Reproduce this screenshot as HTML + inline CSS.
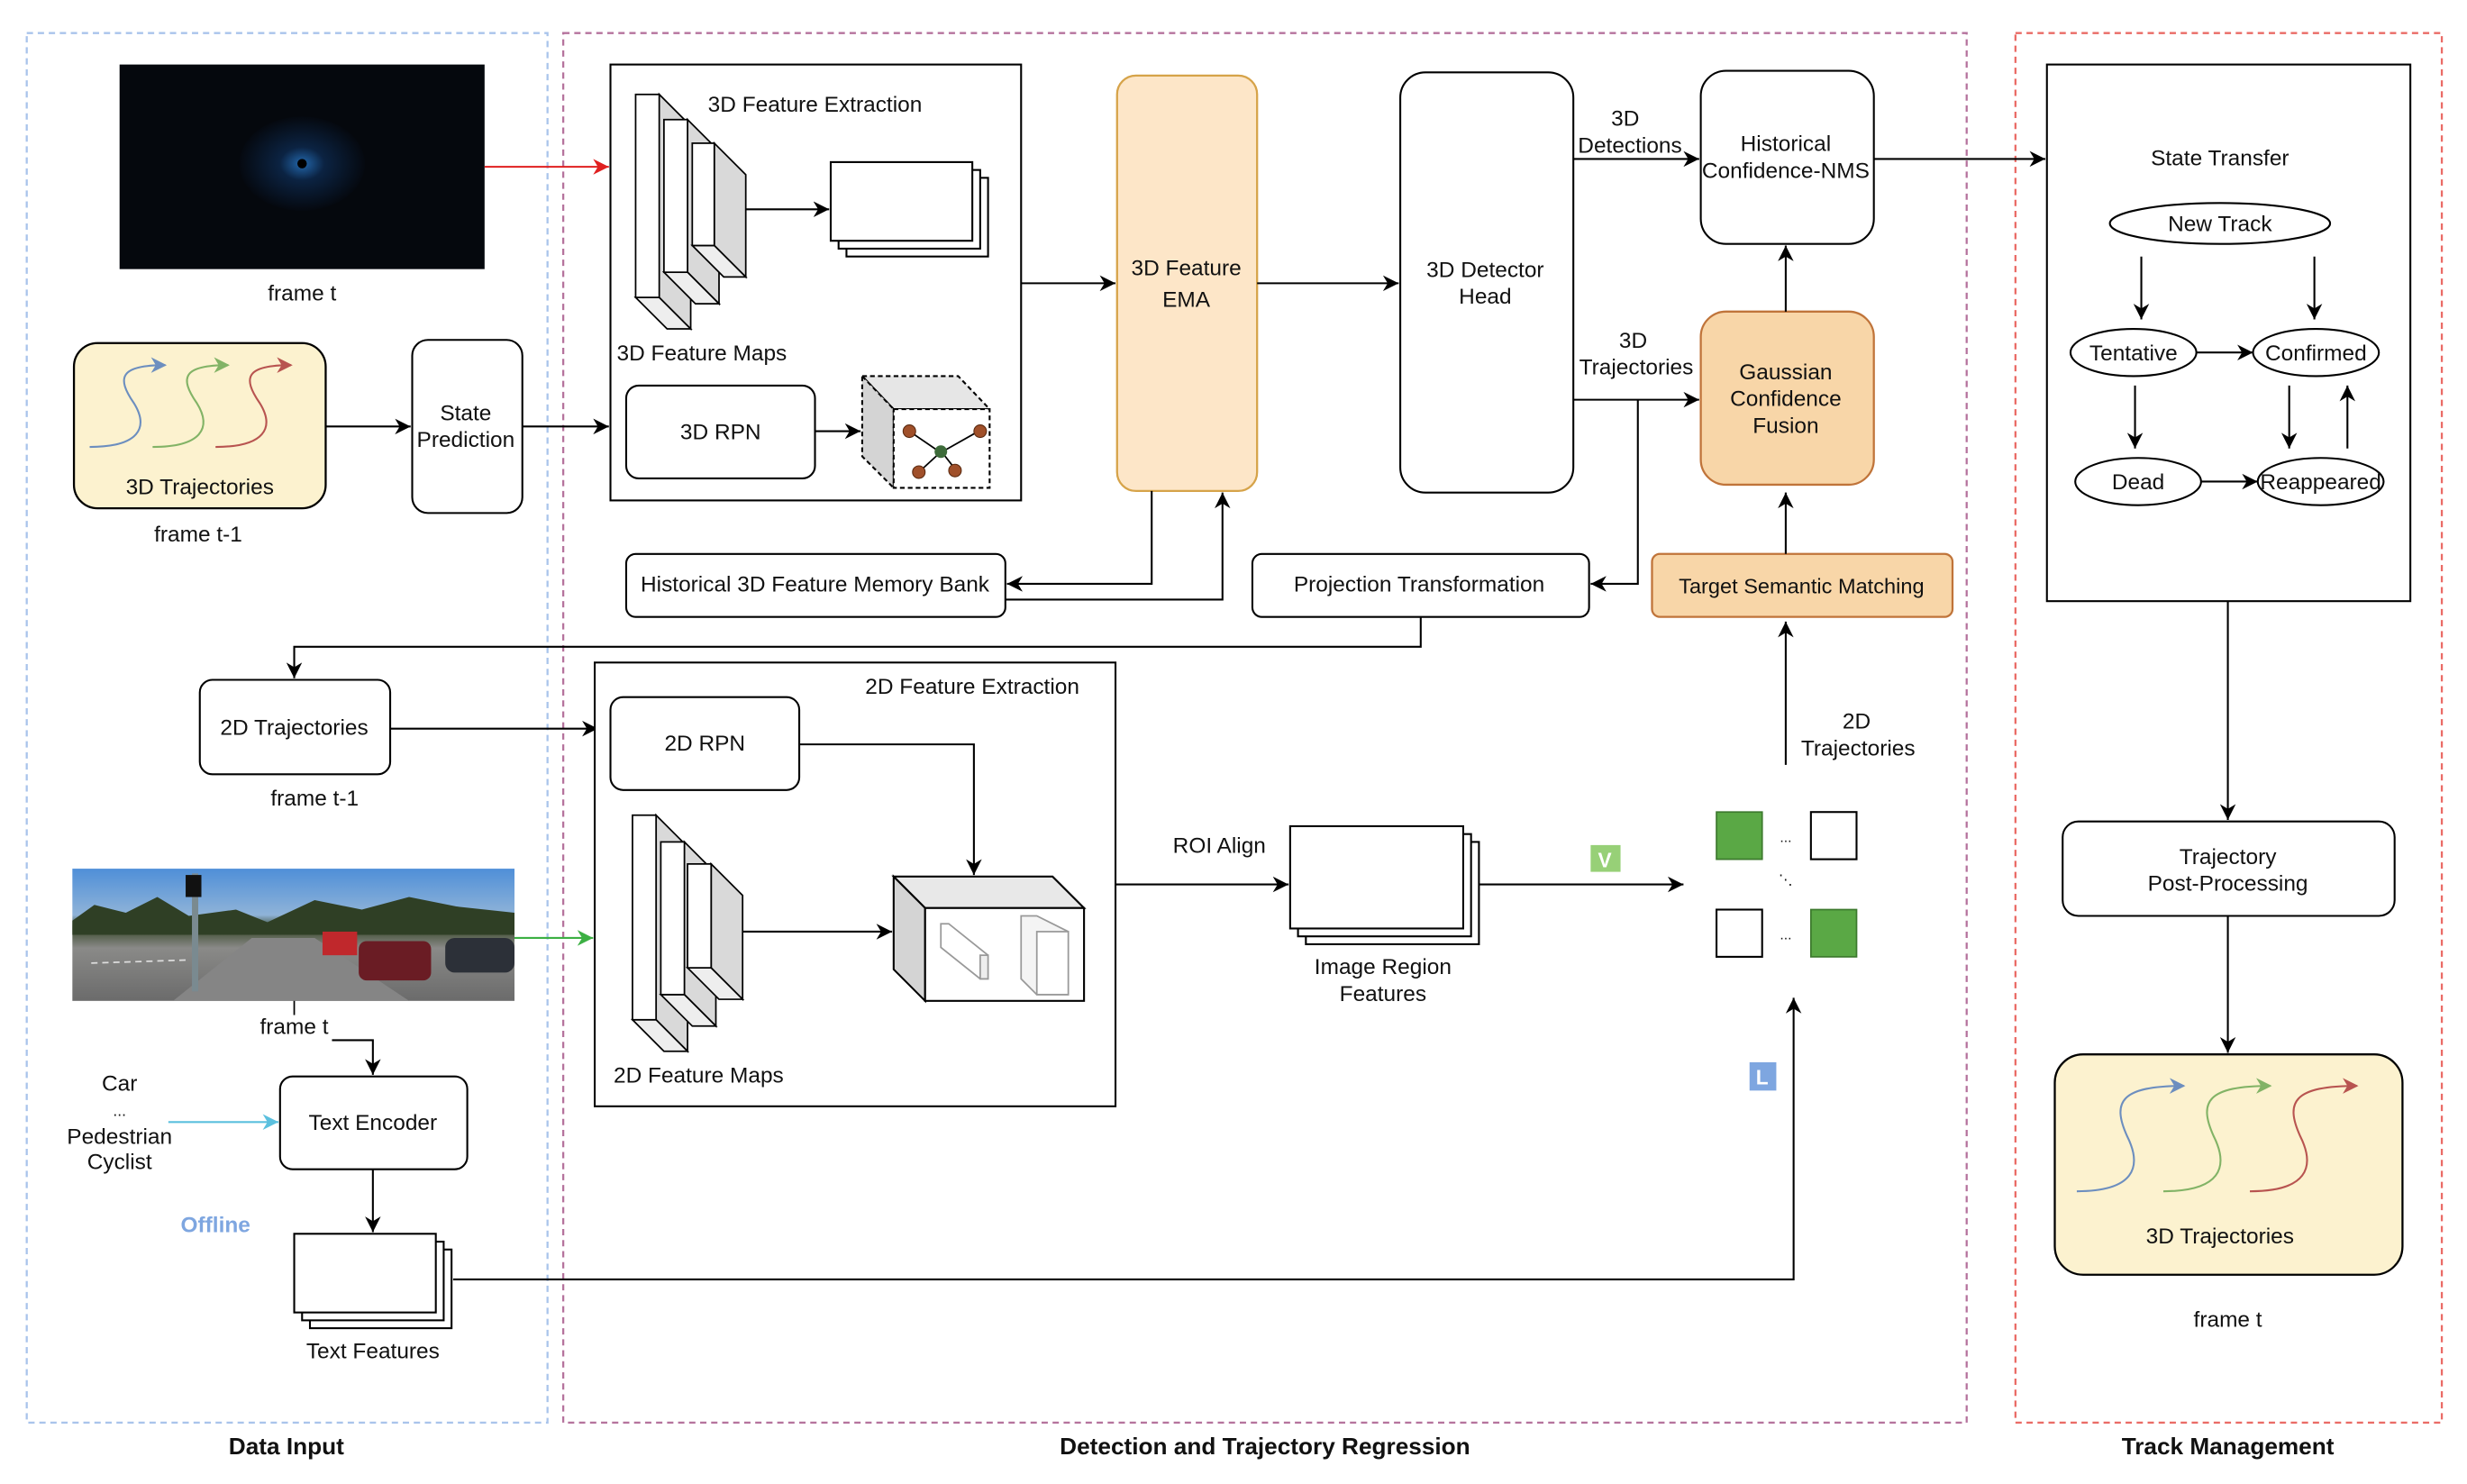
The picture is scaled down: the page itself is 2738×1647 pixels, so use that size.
<!DOCTYPE html>
<html><head><meta charset="utf-8"><style>
html,body{margin:0;padding:0;background:#fff}
svg{display:block}
text{font-family:"Liberation Sans",Arial,sans-serif;font-size:14px;fill:#111}
.c{text-anchor:middle}
.b{font-weight:bold;font-size:15px}
</style></head><body>
<svg width="2738" height="1647" viewBox="0 0 1568 943" preserveAspectRatio="none" xmlns="http://www.w3.org/2000/svg">
<defs>
<marker id="a" markerUnits="userSpaceOnUse" markerWidth="12" markerHeight="12" refX="10" refY="5" orient="auto"><path d="M0,0 L10,5 L0,10 L3,5 Z" fill="#000"/></marker>
<marker id="ar" markerUnits="userSpaceOnUse" markerWidth="12" markerHeight="12" refX="10" refY="5" orient="auto"><path d="M0,0 L10,5 L0,10 L3,5 Z" fill="#e02020"/></marker>
<marker id="ag" markerUnits="userSpaceOnUse" markerWidth="12" markerHeight="12" refX="10" refY="5" orient="auto"><path d="M0,0 L10,5 L0,10 L3,5 Z" fill="#3cb043"/></marker>
<marker id="ac" markerUnits="userSpaceOnUse" markerWidth="12" markerHeight="12" refX="10" refY="5" orient="auto"><path d="M0,0 L10,5 L0,10 L3,5 Z" fill="#5bc0de"/></marker>
<marker id="tb" markerUnits="userSpaceOnUse" markerWidth="12" markerHeight="12" refX="9" refY="5" orient="auto"><path d="M0,0 L10,5 L0,10 L3,5 Z" fill="#6c8ebf"/></marker>
<marker id="tg" markerUnits="userSpaceOnUse" markerWidth="12" markerHeight="12" refX="9" refY="5" orient="auto"><path d="M0,0 L10,5 L0,10 L3,5 Z" fill="#82b366"/></marker>
<marker id="tr" markerUnits="userSpaceOnUse" markerWidth="12" markerHeight="12" refX="9" refY="5" orient="auto"><path d="M0,0 L10,5 L0,10 L3,5 Z" fill="#b85450"/></marker>
<radialGradient id="glow" cx="0.5" cy="0.5" r="0.5"><stop offset="0" stop-color="#2a7fd4"/><stop offset="0.35" stop-color="#0d2a50"/><stop offset="1" stop-color="#050910"/></radialGradient>
<linearGradient id="street" x1="0" y1="0" x2="0" y2="1"><stop offset="0" stop-color="#4f8fd8"/><stop offset="0.35" stop-color="#8fb3d8"/><stop offset="0.45" stop-color="#3b4a2e"/><stop offset="0.6" stop-color="#8a8a88"/><stop offset="1" stop-color="#6b6b6b"/></linearGradient>
</defs>

<!-- containers -->
<rect x="17" y="21" width="331" height="883" fill="none" stroke="#a9c4eb" stroke-width="1.3" stroke-dasharray="4,3"/>
<rect x="358" y="21" width="892" height="883" fill="none" stroke="#b5739d" stroke-width="1.3" stroke-dasharray="4,3"/>
<rect x="1281" y="21" width="271" height="883" fill="none" stroke="#ea6b66" stroke-width="1.3" stroke-dasharray="4,3"/>
<text x="182" y="924" class="c b">Data Input</text>
<text x="804" y="924" class="c b">Detection and Trajectory Regression</text>
<text x="1416" y="924" class="c b">Track Management</text>

<!-- lidar image -->
<rect x="76" y="41" width="232" height="130" fill="#05080d"/>
<ellipse cx="192" cy="104" rx="40" ry="30" fill="url(#glow)" opacity="0.8"/>
<circle cx="192" cy="104" r="3" fill="#000"/>
<text x="192" y="191" class="c">frame t</text>
<line x1="308" y1="106" x2="387" y2="106" stroke="#e02020" stroke-width="1.2" marker-end="url(#ar)"/>

<!-- 3D trajectories left -->
<rect x="47" y="218" width="160" height="105" rx="15" fill="#fcf2cf" stroke="#000" stroke-width="1.3"/>
<g fill="none" stroke-width="1.2">
<path d="M57,284 C88,284 95,272 85,256 C74,240 76,232 105,232" stroke="#6c8ebf" marker-end="url(#tb)"/>
<path d="M97,284 C128,284 135,272 125,256 C114,240 116,232 145,232" stroke="#82b366" marker-end="url(#tg)"/>
<path d="M137,284 C168,284 175,272 165,256 C154,240 156,232 185,232" stroke="#b85450" marker-end="url(#tr)"/>
</g>
<text x="127" y="314" class="c">3D Trajectories</text>
<text x="126" y="344" class="c">frame t-1</text>
<line x1="207" y1="271" x2="261" y2="271" stroke="#000" stroke-width="1.2" marker-end="url(#a)"/>
<rect x="262" y="216" width="70" height="110" rx="10" fill="#fff" stroke="#000" stroke-width="1.2"/>
<text x="296" y="267" class="c">State</text><text x="296" y="284" class="c">Prediction</text>
<line x1="332" y1="271" x2="387" y2="271" stroke="#000" stroke-width="1.2" marker-end="url(#a)"/>

<!-- 3D Feature Extraction -->
<rect x="388" y="41" width="261" height="277" fill="#fff" stroke="#000" stroke-width="1.2"/>
<text x="518" y="71" class="c">3D Feature  Extraction</text>
<g stroke="#000" stroke-width="1">
<polygon points="419,60 439,80 439,209 419,189" fill="#d9d9d9"/><polygon points="404,189 419,189 439,209 424,209" fill="#eee"/><rect x="404" y="60" width="15" height="129" fill="#fff"/>
<polygon points="437,76 457,96 457,193 437,173" fill="#d9d9d9"/><polygon points="422,173 437,173 457,193 442,193" fill="#eee"/><rect x="422" y="76" width="15" height="97" fill="#fff"/>
<polygon points="454,91 474,111 474,176 454,156" fill="#d9d9d9"/><polygon points="440,156 454,156 474,176 460,176" fill="#eee"/><rect x="440" y="91" width="14" height="65" fill="#fff"/>
</g>
<line x1="474" y1="133" x2="527" y2="133" stroke="#000" stroke-width="1.2" marker-end="url(#a)"/>
<g fill="#fff" stroke="#000" stroke-width="1.2"><rect x="538" y="113" width="90" height="50"/><rect x="533" y="108" width="90" height="50"/><rect x="528" y="103" width="90" height="50"/></g>
<text x="392" y="229">3D Feature  Maps</text>
<rect x="398" y="245" width="120" height="59" rx="8" fill="#fff" stroke="#000" stroke-width="1.2"/>
<text x="458" y="279" class="c">3D RPN</text>
<line x1="518" y1="274" x2="547" y2="274" stroke="#000" stroke-width="1.2" marker-end="url(#a)"/>
<g stroke="#000" stroke-width="1.2" stroke-dasharray="3,2">
<polygon points="548,239 609,239 629,260 568,260" fill="#e6e6e6"/>
<polygon points="548,239 568,260 568,310 548,290" fill="#d4d4d4"/>
<rect x="568" y="260" width="61" height="50" fill="#fff"/>
</g>
<g stroke="#000" stroke-width="1"><line x1="578" y1="274" x2="597" y2="287"/><line x1="622" y1="274" x2="599" y2="287"/><line x1="584" y1="300" x2="596" y2="289"/><line x1="607" y1="298" x2="600" y2="289"/></g>
<g fill="#a0502a" stroke="#5a2a10" stroke-width="0.6"><circle cx="578" cy="274" r="4"/><circle cx="623" cy="274" r="4"/><circle cx="584" cy="300" r="4"/><circle cx="607" cy="299" r="4"/></g>
<circle cx="598" cy="287" r="4" fill="#3d6b3a"/>

<!-- EMA -->
<line x1="649" y1="180" x2="709" y2="180" stroke="#000" stroke-width="1.2" marker-end="url(#a)"/>
<rect x="710" y="48" width="89" height="264" rx="12" fill="#fde6c8" stroke="#d6a349" stroke-width="1.3"/>
<text x="754" y="175" class="c">3D Feature</text><text x="754" y="195" class="c">EMA</text>
<line x1="799" y1="180" x2="889" y2="180" stroke="#000" stroke-width="1.2" marker-end="url(#a)"/>
<rect x="890" y="46" width="110" height="267" rx="16" fill="#fff" stroke="#000" stroke-width="1.2"/>
<text x="944" y="176" class="c">3D Detector</text><text x="944" y="193" class="c">Head</text>
<text x="1033" y="80" class="c">3D</text><text x="1036" y="97" class="c">Detections</text>
<line x1="1000" y1="101" x2="1080" y2="101" stroke="#000" stroke-width="1.2" marker-end="url(#a)"/>
<rect x="1081" y="45" width="110" height="110" rx="16" fill="#fff" stroke="#000" stroke-width="1.2"/>
<text x="1135" y="96" class="c">Historical</text><text x="1135" y="113" class="c">Confidence-NMS</text>
<line x1="1191" y1="101" x2="1300" y2="101" stroke="#000" stroke-width="1.2" marker-end="url(#a)"/>
<rect x="1081" y="198" width="110" height="110" rx="16" fill="#f8d6a8" stroke="#c0743a" stroke-width="1.3"/>
<text x="1135" y="241" class="c">Gaussian</text><text x="1135" y="258" class="c">Confidence</text><text x="1135" y="275" class="c">Fusion</text>
<line x1="1135" y1="198" x2="1135" y2="156" stroke="#000" stroke-width="1.2" marker-end="url(#a)"/>
<text x="1038" y="221" class="c">3D</text><text x="1040" y="238" class="c">Trajectories</text>
<line x1="1000" y1="254" x2="1080" y2="254" stroke="#000" stroke-width="1.2" marker-end="url(#a)"/>
<polyline points="1041,254 1041,371 1011,371" fill="none" stroke="#000" stroke-width="1.2" marker-end="url(#a)"/>
<rect x="796" y="352" width="214" height="40" rx="6" fill="#fff" stroke="#000" stroke-width="1.2"/>
<text x="902" y="376" class="c">Projection Transformation</text>
<rect x="1050" y="352" width="191" height="40" rx="5" fill="#f8d6a8" stroke="#c0743a" stroke-width="1.3"/>
<text x="1145" y="377" class="c" style="font-size:13.5px">Target Semantic Matching</text>
<line x1="1135" y1="352" x2="1135" y2="313" stroke="#000" stroke-width="1.2" marker-end="url(#a)"/>
<rect x="398" y="352" width="241" height="40" rx="6" fill="#fff" stroke="#000" stroke-width="1.2"/>
<text x="518" y="376" class="c">Historical 3D Feature Memory Bank</text>
<polyline points="732,312 732,371 640,371" fill="none" stroke="#000" stroke-width="1.2" marker-end="url(#a)"/>
<polyline points="639,381 777,381 777,313" fill="none" stroke="#000" stroke-width="1.2" marker-end="url(#a)"/>
<polyline points="903,392 903,411 187,411 187,431" fill="none" stroke="#000" stroke-width="1.2" marker-end="url(#a)"/>

<!-- 2D trajectories -->
<rect x="127" y="432" width="121" height="60" rx="8" fill="#fff" stroke="#000" stroke-width="1.2"/>
<text x="187" y="467" class="c">2D Trajectories</text>
<text x="200" y="512" class="c">frame t-1</text>
<line x1="248" y1="463" x2="380" y2="463" stroke="#000" stroke-width="1.2" marker-end="url(#a)"/>

<!-- 2D feature extraction -->
<rect x="378" y="421" width="331" height="282" fill="#fff" stroke="#000" stroke-width="1.2"/>
<text x="618" y="441" class="c">2D Feature  Extraction</text>
<rect x="388" y="443" width="120" height="59" rx="8" fill="#fff" stroke="#000" stroke-width="1.2"/>
<text x="448" y="477" class="c">2D RPN</text>
<polyline points="508,473 619,473 619,556" fill="none" stroke="#000" stroke-width="1.2" marker-end="url(#a)"/>
<g stroke="#000" stroke-width="1">
<polygon points="417,518 437,538 437,668 417,648" fill="#d9d9d9"/><polygon points="402,648 417,648 437,668 422,668" fill="#eee"/><rect x="402" y="518" width="15" height="130" fill="#fff"/>
<polygon points="435,535 455,555 455,652 435,632" fill="#d9d9d9"/><polygon points="420,632 435,632 455,652 440,652" fill="#eee"/><rect x="420" y="535" width="15" height="97" fill="#fff"/>
<polygon points="452,549 472,569 472,635 452,615" fill="#d9d9d9"/><polygon points="437,615 452,615 472,635 457,635" fill="#eee"/><rect x="437" y="549" width="15" height="66" fill="#fff"/>
</g>
<line x1="472" y1="592" x2="567" y2="592" stroke="#000" stroke-width="1.2" marker-end="url(#a)"/>
<g stroke="#000" stroke-width="1.2">
<polygon points="568,557 669,557 689,577 588,577" fill="#e8e8e8"/>
<polygon points="568,557 588,577 588,636 568,616" fill="#d4d4d4"/>
<rect x="588" y="577" width="101" height="59" fill="#fff"/>
</g>
<g stroke="#999" stroke-width="1" fill="#fff">
<polygon points="598,587 603,587 628,607 628,622 623,622 598,602"/><rect x="623" y="607" width="5" height="15" fill="#eee"/>
<polygon points="649,582 659,582 679,592 679,632 659,632 649,622" fill="#f4f4f4"/><rect x="659" y="592" width="20" height="40"/>
</g>
<text x="390" y="688">2D Feature  Maps</text>
<text x="775" y="542" class="c">ROI Align</text>
<line x1="709" y1="562" x2="819" y2="562" stroke="#000" stroke-width="1.2" marker-end="url(#a)"/>
<g fill="#fff" stroke="#000" stroke-width="1.2"><rect x="830" y="535" width="110" height="65"/><rect x="825" y="530" width="110" height="65"/><rect x="820" y="525" width="110" height="65"/></g>
<text x="879" y="619" class="c">Image Region</text><text x="879" y="636" class="c">Features</text>
<line x1="940" y1="562" x2="1070" y2="562" stroke="#000" stroke-width="1.2" marker-end="url(#a)"/>
<rect x="1011" y="537" width="19" height="17" fill="#97d077"/>
<text x="1020" y="551" class="c" style="fill:#fff;font-weight:bold;font-size:13px">V</text>
<rect x="1091" y="516" width="29" height="30" fill="#5aa845" stroke="#3d7a2e"/>
<rect x="1151" y="516" width="29" height="30" fill="#fff" stroke="#000" stroke-width="1.2"/>
<rect x="1091" y="578" width="29" height="30" fill="#fff" stroke="#000" stroke-width="1.2"/>
<rect x="1151" y="578" width="29" height="30" fill="#5aa845" stroke="#3d7a2e"/>
<text x="1135" y="535" class="c" style="font-size:9px">...</text>
<text x="1135" y="597" class="c" style="font-size:9px">...</text>
<text x="1135" y="562" class="c" style="font-size:9px">⋱</text>
<line x1="1135" y1="486" x2="1135" y2="395" stroke="#000" stroke-width="1.2" marker-end="url(#a)"/>
<text x="1180" y="463" class="c">2D</text><text x="1181" y="480" class="c">Trajectories</text>
<polyline points="288,813 1140,813 1140,634" fill="none" stroke="#000" stroke-width="1.2" marker-end="url(#a)"/>
<rect x="1112" y="675" width="17" height="18" fill="#7ea6e0"/>
<text x="1120" y="689" class="c" style="fill:#fff;font-weight:bold;font-size:13px">L</text>

<!-- street image -->
<rect x="46" y="552" width="281" height="84" fill="url(#street)"/>
<path d="M46,585 L60,575 L80,580 L100,570 L120,582 L150,578 L170,586 L200,572 L230,578 L260,570 L290,576 L327,580 L327,594 L46,594 Z" fill="#2f3f25"/>
<polygon points="160,596 200,596 260,636 110,636" fill="#858585"/>
<rect x="205" y="592" width="22" height="15" fill="#c0282c"/><rect x="228" y="598" width="46" height="25" rx="5" fill="#6a1c24"/><rect x="283" y="596" width="44" height="22" rx="6" fill="#2c3038"/>
<rect x="122" y="555" width="4" height="75" fill="#7a8a90"/><rect x="118" y="556" width="10" height="14" fill="#111"/>
<line x1="58" y1="612" x2="120" y2="610" stroke="#ddd" stroke-dasharray="4,3"/>
<line x1="327" y1="596" x2="377" y2="596" stroke="#3cb043" stroke-width="1.2" marker-end="url(#ag)"/>
<line x1="187" y1="636" x2="187" y2="645" stroke="#000"/>
<text x="187" y="657" class="c">frame t</text>
<polyline points="211,661 237,661 237,683" fill="none" stroke="#000" stroke-width="1.2" marker-end="url(#a)"/>
<rect x="178" y="684" width="119" height="59" rx="8" fill="#fff" stroke="#000" stroke-width="1.2"/>
<text x="237" y="718" class="c">Text Encoder</text>
<text x="76" y="693" class="c">Car</text>
<text x="76" y="709" class="c" style="font-size:10px">...</text>
<text x="76" y="727" class="c">Pedestrian</text>
<text x="76" y="743" class="c">Cyclist</text>
<line x1="107" y1="713" x2="177" y2="713" stroke="#5bc0de" stroke-width="1.2" marker-end="url(#ac)"/>
<text x="137" y="783" class="c" style="fill:#7ea6e0;font-weight:bold">Offline</text>
<line x1="237" y1="743" x2="237" y2="783" stroke="#000" stroke-width="1.2" marker-end="url(#a)"/>
<g fill="#fff" stroke="#000" stroke-width="1.2"><rect x="197" y="794" width="90" height="50"/><rect x="192" y="789" width="90" height="50"/><rect x="187" y="784" width="90" height="50"/></g>
<text x="237" y="863" class="c">Text Features</text>

<!-- Track management -->
<rect x="1301" y="41" width="231" height="341" fill="#fff" stroke="#000" stroke-width="1.2"/>
<text x="1411" y="105" class="c">State Transfer</text>
<g fill="#fff" stroke="#000" stroke-width="1.2">
<ellipse cx="1411" cy="142" rx="70" ry="13"/>
<ellipse cx="1356" cy="224" rx="40" ry="15"/>
<ellipse cx="1472" cy="224" rx="40" ry="15"/>
<ellipse cx="1359" cy="306" rx="40" ry="15"/>
<ellipse cx="1475" cy="306" rx="40" ry="15"/>
</g>
<text x="1411" y="147" class="c">New Track</text>
<text x="1356" y="229" class="c">Tentative</text>
<text x="1472" y="229" class="c">Confirmed</text>
<text x="1359" y="311" class="c">Dead</text>
<text x="1475" y="311" class="c">Reappeared</text>
<g stroke="#000" stroke-width="1.2" marker-end="url(#a)">
<line x1="1361" y1="163" x2="1361" y2="203"/>
<line x1="1471" y1="163" x2="1471" y2="203"/>
<line x1="1396" y1="224" x2="1432" y2="224"/>
<line x1="1357" y1="245" x2="1357" y2="285"/>
<line x1="1455" y1="245" x2="1455" y2="285"/>
<line x1="1492" y1="285" x2="1492" y2="245"/>
<line x1="1399" y1="306" x2="1435" y2="306"/>
<line x1="1416" y1="382" x2="1416" y2="521"/>
<line x1="1416" y1="582" x2="1416" y2="669"/>
</g>
<rect x="1311" y="522" width="211" height="60" rx="10" fill="#fff" stroke="#000" stroke-width="1.2"/>
<text x="1416" y="549" class="c">Trajectory</text><text x="1416" y="566" class="c">Post-Processing</text>
<rect x="1306" y="670" width="221" height="140" rx="18" fill="#fcf2cf" stroke="#000" stroke-width="1.3"/>
<g fill="none" stroke-width="1.2">
<path d="M1320,757 C1356,757 1362,742 1352,722 C1342,700 1348,690 1388,690" stroke="#6c8ebf" marker-end="url(#tb)"/>
<path d="M1375,757 C1411,757 1417,742 1407,722 C1397,700 1403,690 1443,690" stroke="#82b366" marker-end="url(#tg)"/>
<path d="M1430,757 C1466,757 1472,742 1462,722 C1452,700 1458,690 1498,690" stroke="#b85450" marker-end="url(#tr)"/>
</g>
<text x="1411" y="790" class="c">3D Trajectories</text>
<text x="1416" y="843" class="c">frame t</text>
</svg>
</body></html>
